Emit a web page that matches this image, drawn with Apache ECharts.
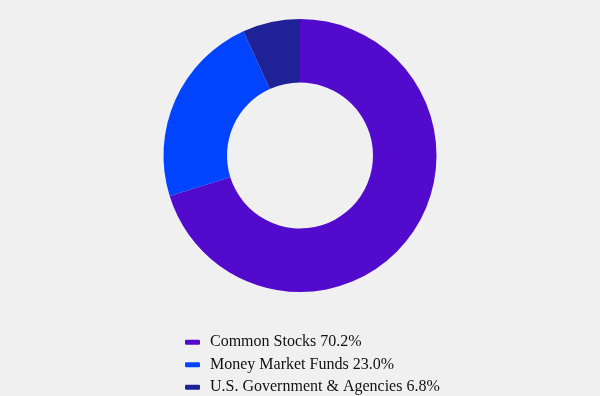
<!DOCTYPE html>
<html><head><meta charset="utf-8">
<script src="https://cdn.jsdelivr.net/npm/echarts@6/dist/echarts.min.js"></script>
<style>html,body{margin:0;padding:0;background:#f0f0f0;}#c{width:600px;height:396px;}</style>
</head><body><div id="c"></div>
<script>
const categories = ["Common Stocks 70.2%", "Money Market Funds 23.0%", "U.S. Government & Agencies 6.8%"];
const values = [70.2, 23.0, 6.8];
const colors = ["#520ACC", "#0044FF", "#1E2296"];

const chart = echarts.init(document.getElementById('c'), null, {renderer: 'canvas'});
chart.setOption({
  backgroundColor: '#f0f0f0',
  animation: false,
  color: colors,
  legend: {
    orient: 'vertical',
    left: 185,
    top: 333,
    height: 80,
    padding: 0,
    itemWidth: 15,
    itemHeight: 5,
    itemGap: 4,
    icon: 'roundRect',
    textStyle: {fontFamily: "'Liberation Serif', 'Times New Roman', serif", fontSize: 16, color: '#111', lineHeight: 18.5, padding: [0, 0, 0, 5]},
    data: categories
  },
  series: [{
    type: 'pie',
    center: [300, 155.5],
    radius: [73, 136.5],
    startAngle: 90,
    label: {show: false},
    labelLine: {show: false},
    itemStyle: {borderWidth: 0},
    data: categories.map((c, i) => ({name: c, value: values[i]}))
  }]
});
</script></body></html>
